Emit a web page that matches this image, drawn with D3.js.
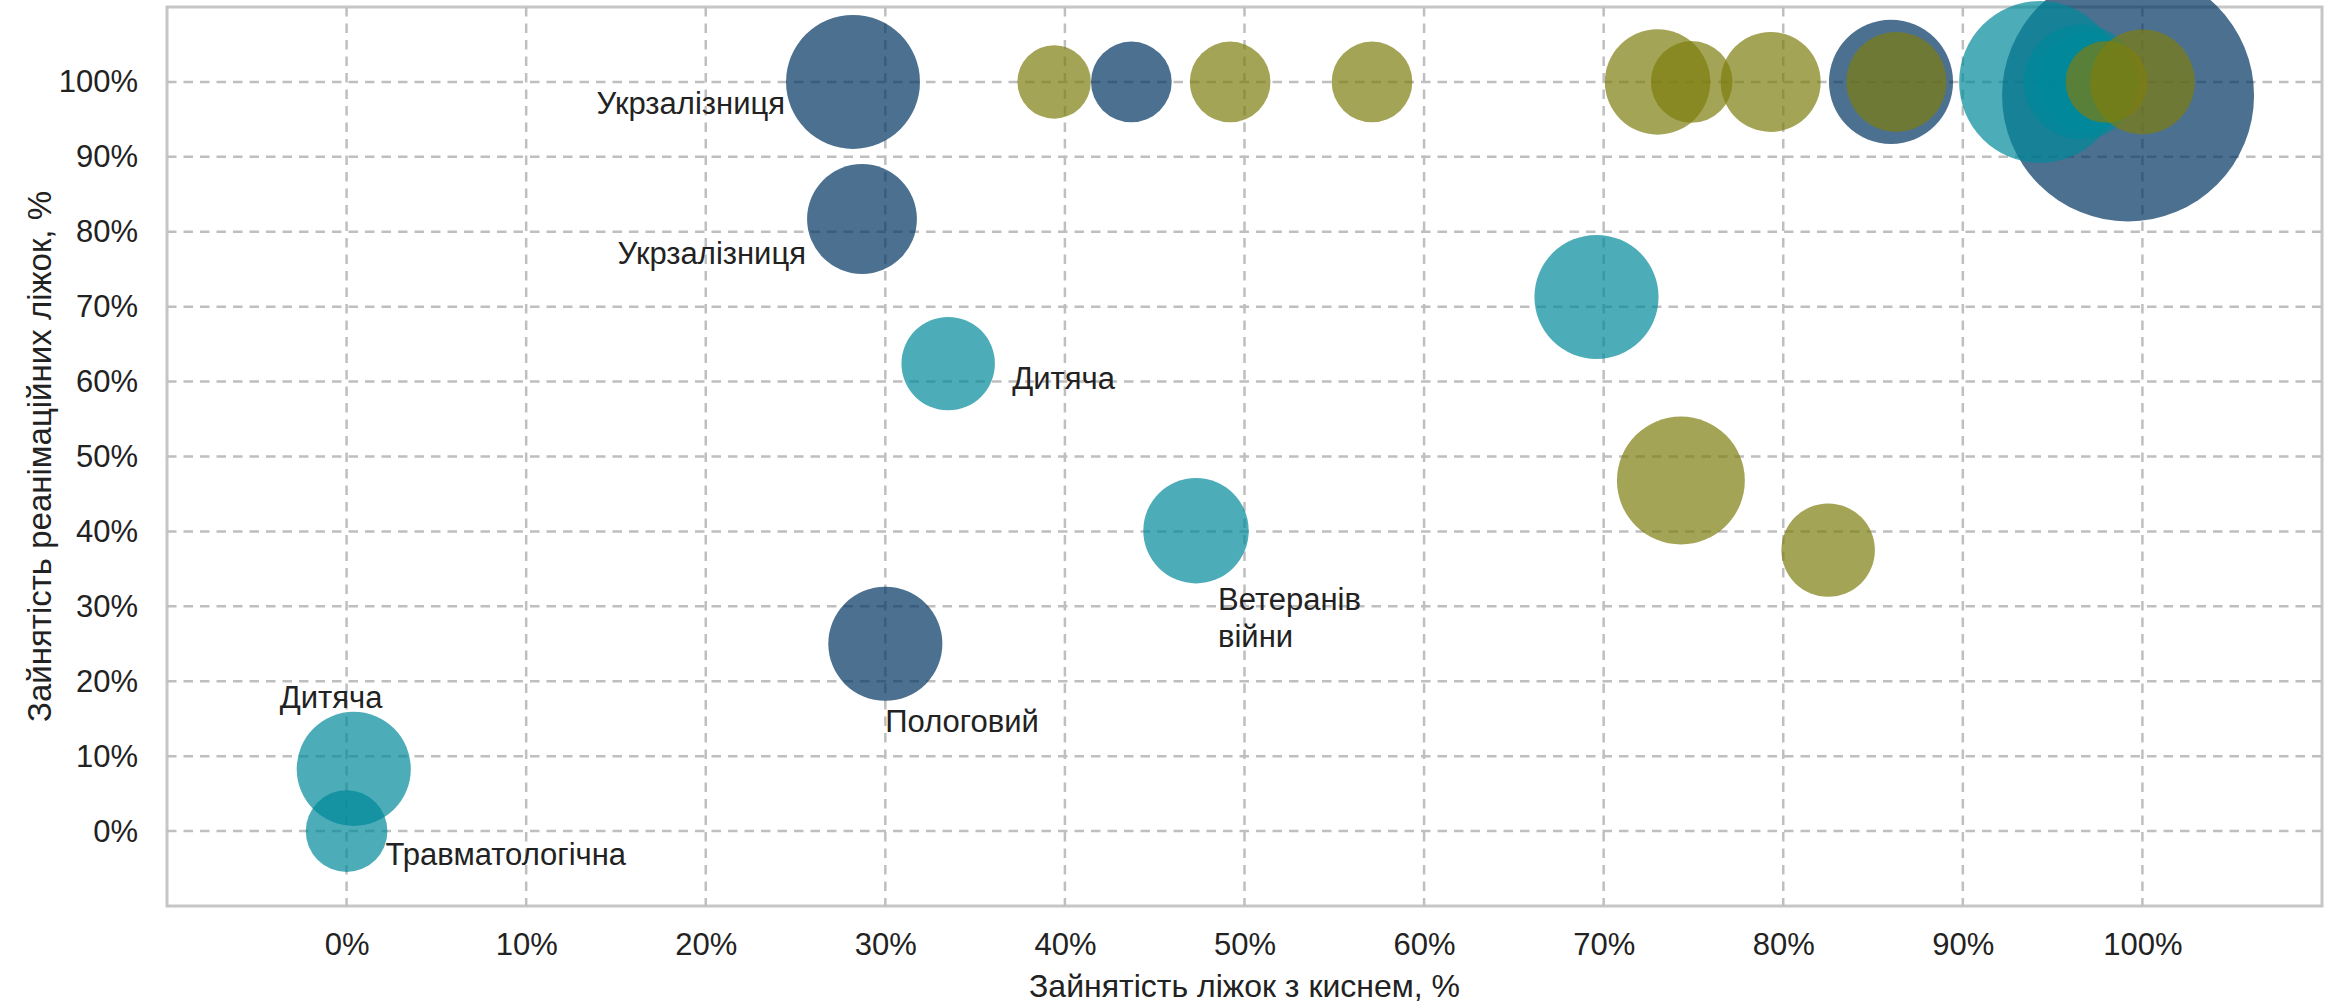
<!DOCTYPE html>
<html>
<head>
<meta charset="utf-8">
<script src="https://cdn.jsdelivr.net/npm/d3@7"></script>
<style>
  body { margin: 0; background: #fff; }
  svg text { font-family: "Liberation Sans", Arial, sans-serif; fill: #222; }
</style>
</head>
<body>
<div id="main"></div>
<script>
/// data ///
// x = зайнятість ліжок з киснем, y = зайнятість реанімаційних ліжок, size = розмір бульбашки
const blueX    = [0.282, 0.287, 0.437, 0.300, 0.860, 0.992];
const blueY    = [1.000, 0.817, 1.000, 0.250, 1.000, 0.982];
const blueSize = [113, 76, 41, 82, 97, 400];
const blueName = ['Укрзалізниця', 'Укрзалізниця', '', 'Пологовий', '', ''];

const tealX    = [0.335, 0.696, 0.473, 0.004, 0.000, 0.943, 0.966, 0.969];
const tealY    = [0.624, 0.713, 0.401, 0.083, 0.000, 1.000, 1.000, 1.000];
const tealSize = [55, 97, 70, 82, 42, 165, 83, 62];
const tealName = ['Дитяча', '', 'Ветеранів війни', 'Дитяча', 'Травматологічна', '', '', ''];

const oliveX    = [0.394, 0.492, 0.571, 0.730, 0.749, 0.793, 0.863, 0.743, 0.825, 0.980, 1.000];
const oliveY    = [1.000, 1.000, 1.000, 1.000, 1.000, 1.000, 1.000, 0.468, 0.375, 1.000, 1.000];
const oliveSize = [34, 41, 41, 70, 42, 63, 63, 103, 55, 42, 69];

const tickValues = [0, 0.1, 0.2, 0.3, 0.4, 0.5, 0.6, 0.7, 0.8, 0.9, 1.0];
const xTitle = 'Зайнятість ліжок з киснем, %';
const yTitle = 'Зайнятість реанімаційних ліжок, %';

// series in drawing order
const series = [
    { color: '#00335f', x: blueX, y: blueY, size: blueSize, name: blueName },
    { color: '#00899a', x: tealX, y: tealY, size: tealSize, name: tealName },
    { color: '#7e7e0e', x: oliveX, y: oliveY, size: oliveSize, name: oliveX.map(() => '') }
];

// label placement (px offsets from bubble centre)
const labelPos = {
    'Укрзалізниця0': { anchor: 'end', dx: -68, dy: 32 },
    'Укрзалізниця1': { anchor: 'end', dx: -56, dy: 45 },
    'Пологовий3': { anchor: 'start', dx: 0, dy: 88 },
    'Дитяча0': { anchor: 'start', dx: 64, dy: 25 },
    'Ветеранів війни2': { anchor: 'start', dx: 22, dy: 79 },
    'Дитяча3': { anchor: 'start', dx: -74, dy: -61 },
    'Травматологічна4': { anchor: 'start', dx: 39, dy: 34 }
};

/// chart ///
const w = 2330;
const h = 1003;
const plotLeft = 167, plotRight = 2322, plotTop = 7, plotBottom = 906;

let svg = d3.select('#main')
        .append('svg')
        .attr('width', w)
        .attr('height', h);

let xScale = d3.scaleLinear().domain([-0.1, 1.1]).range([plotLeft, plotRight]);
let yScale = d3.scaleLinear().domain([-0.1, 1.1]).range([plotBottom, plotTop]);
let rScale = d3.scaleSqrt().domain([0, 400]).range([0, 126]);

// plot border
svg.append('rect')
    .attr('x', plotLeft)
    .attr('y', plotTop)
    .attr('width', plotRight - plotLeft)
    .attr('height', plotBottom - plotTop)
    .attr('fill', 'none')
    .attr('stroke', '#c6c6c6')
    .attr('stroke-width', 3);

// grid lines
svg.append('g').selectAll('line')
    .data(tickValues)
    .enter()
    .append('line')
    .attr('x1', plotLeft).attr('x2', plotRight)
    .attr('y1', d => yScale(d)).attr('y2', d => yScale(d))
    .attr('stroke', '#bfbfbf')
    .attr('stroke-width', 2.5)
    .attr('stroke-dasharray', '9.5,7');

svg.append('g').selectAll('line')
    .data(tickValues)
    .enter()
    .append('line')
    .attr('y1', plotTop).attr('y2', plotBottom)
    .attr('x1', d => xScale(d)).attr('x2', d => xScale(d))
    .attr('stroke', '#bfbfbf')
    .attr('stroke-width', 2.5)
    .attr('stroke-dasharray', '9.5,7');

// axes
let xAxis = d3.axisBottom(xScale)
        .tickValues(tickValues)
        .tickFormat(d3.format('.0%'))
        .tickSize(0)
        .tickPadding(27);

let yAxis = d3.axisLeft(yScale)
        .tickValues(tickValues)
        .tickFormat(d3.format('.0%'))
        .tickSize(0)
        .tickPadding(29);

svg.append('g')
    .attr('transform', 'translate(0,' + plotBottom + ')')
    .call(xAxis)
    .call(g => g.select('.domain').remove())
    .selectAll('text')
    .style('font-size', '31px')
    .attr('fill', '#222');

svg.append('g')
    .attr('transform', 'translate(' + plotLeft + ',0)')
    .call(yAxis)
    .call(g => g.select('.domain').remove())
    .selectAll('text')
    .style('font-size', '31px')
    .attr('fill', '#222');

svg.selectAll('.tick text').style('font-family', '"Liberation Sans", Arial, sans-serif');

// axis titles
svg.append('text')
    .attr('x', (plotLeft + plotRight) / 2)
    .attr('y', 997)
    .style('text-anchor', 'middle')
    .style('font-size', '32px')
    .text(xTitle);

svg.append('text')
    .attr('transform', 'translate(51,' + (plotTop + plotBottom) / 2 + ') rotate(-90)')
    .style('text-anchor', 'middle')
    .style('font-size', '33px')
    .text(yTitle);

// bubbles
series.forEach(s => {
    let rows = s.x.map((v, i) => ({ x: v, y: s.y[i], size: s.size[i], name: s.name[i], i: i }));

    svg.append('g').selectAll('circle')
        .data(rows)
        .enter()
        .append('circle')
        .attr('cx', d => xScale(d.x))
        .attr('cy', d => yScale(d.y))
        .attr('r', d => rScale(d.size))
        .attr('fill', s.color)
        .attr('fill-opacity', 0.7);
});

// labels on top
series.forEach(s => {
    s.x.forEach((v, i) => {
        let name = s.name[i];
        if (!name) return;
        let p = labelPos[name + i];
        let cx = xScale(v), cy = yScale(s.y[i]);
        let words = name === 'Ветеранів війни' ? ['Ветеранів', 'війни'] : [name];
        let t = svg.append('text')
            .attr('x', cx + p.dx)
            .attr('y', cy + p.dy)
            .style('text-anchor', p.anchor)
            .style('font-size', '31px');
        words.forEach((wd, k) => {
            t.append('tspan')
                .attr('x', cx + p.dx)
                .attr('dy', k === 0 ? 0 : 37.7)
                .text(wd);
        });
    });
});
</script>
</body>
</html>
